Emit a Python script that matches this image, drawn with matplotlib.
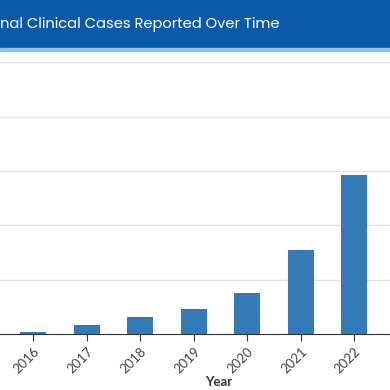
import matplotlib.pyplot as plt
from matplotlib.patches import Rectangle

# Data (y in arbitrary units: 100 per gridline)
years = ['2016', '2017', '2018', '2019', '2020', '2021', '2022']
cases = [3.7, 16, 32, 46, 75, 155, 292]
title = 'nal Clinical Cases Reported Over Time'

plt.rcParams['font.family'] = ['Lato', 'DejaVu Sans']

fig = plt.figure(figsize=(3.9, 3.9), dpi=100)

# header bar
fig.patches.append(Rectangle((0, 1 - 48 / 390), 1, 48 / 390, transform=fig.transFigure,
                             color='#0b5aa7', zorder=0))
fig.patches.append(Rectangle((0, 1 - 51 / 390), 1, 3 / 390, transform=fig.transFigure,
                             color='#8fc3da', zorder=0))
fig.text(0.0, 1 - 24 / 390, title, color='white', fontsize=10.6,
         family=['Poppins', 'Open Sans', 'DejaVu Sans'], va='center', ha='left')

ax = fig.add_axes([0, 56 / 390, 1, (338 - 56) / 390 - 0.0])
x = range(len(years))
ax.bar(x, cases, width=0.49, color='#337ab7', zorder=2)

ax.set_xlim(-0.622, 6.667)
ax.set_ylim(0, 519)
ax.set_yticks([100, 200, 300, 400, 500])
ax.set_yticklabels([])
ax.tick_params(axis='y', length=0)
ax.yaxis.grid(True, color='#e2e2e2', lw=1)
ax.set_axisbelow(True)

ax.set_xticks(list(x))
ax.set_xticklabels(years, rotation=45, ha='right', rotation_mode='anchor',
                   fontsize=9.5, color='#444444')
ax.tick_params(axis='x', length=5, color='#333333', pad=3)

for s in ['top', 'right', 'left']:
    ax.spines[s].set_visible(False)
ax.spines['bottom'].set_color('#333333')

fig.text(219 / 390, 1 - 382 / 390, 'Year', fontsize=9.5, fontweight='bold',
         color='#333333', ha='center', va='center')

fig.savefig('out.png', dpi=100)
